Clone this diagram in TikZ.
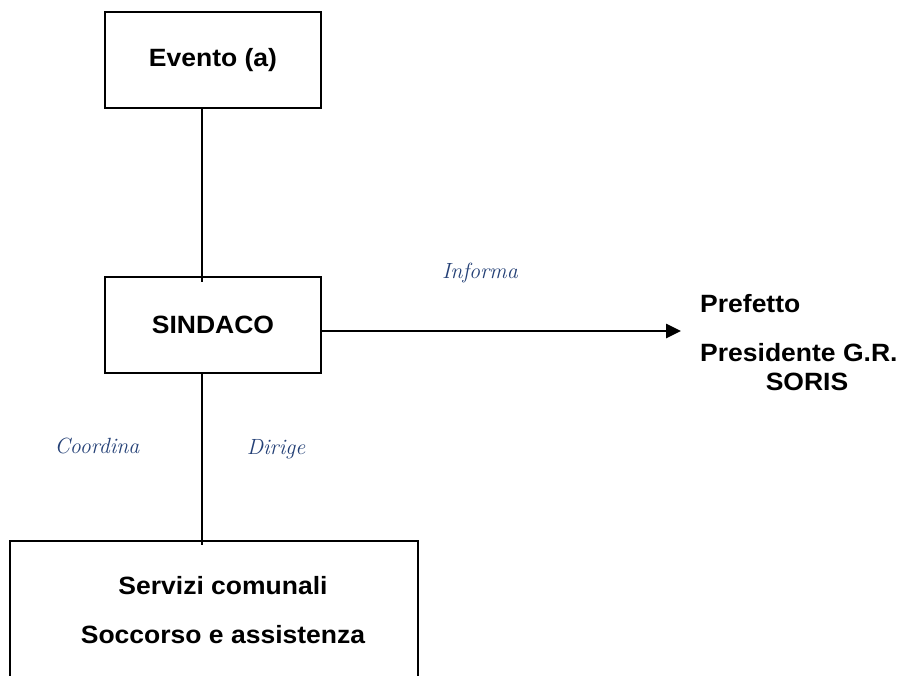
\documentclass[tikz,border=0pt]{standalone}
\usepackage{fontspec}
\usepackage{tikz}
\usetikzlibrary{arrows.meta}
\newfontfamily\arialfont[FakeStretch=1.06]{Liberation Sans}
\definecolor{bluscuro}{RGB}{36,64,118}

\tikzset{
  testo/.style = {font = \arialfont\bfseries\fontsize{25}{30}\selectfont},
  casella/.style = {draw, line width = 1.4pt, inner sep = 0pt},
  azione/.style = {color = bluscuro, font = \itshape\fontsize{22}{26}\selectfont}
}

\begin{document}
\begin{tikzpicture}[x = 1pt, y = -1pt]
\useasboundingbox (0, 0) rectangle (899, 675);
\clip (0, 0) rectangle (899, 675);
% caselle
\node (evento) [casella, testo, minimum width = 216, minimum height = 96] at (213, 60) {Evento (a)};
\node (sindaco) [casella, testo, minimum width = 216, minimum height = 96] at (213, 325) {SINDACO};
\node (servizi) [casella, minimum width = 408, minimum height = 138] at (214, 610) {};
\node (servizitesto) [testo, align = center] at (223, 610) {Servizi comunali\\[19pt]Soccorso e assistenza};
% enti informati
\node (prefetto) [testo, anchor = base west, inner sep = 0pt] at (700, 312) {Prefetto};
\node (presidente) [testo, anchor = base west, inner sep = 0pt] at (700, 361) {Presidente G.R.};
\node (soris) [testo, anchor = base, inner sep = 0pt] at (807, 390) {SORIS};
\coordinate (capo) at (681, 331);
% collegamenti
\draw [line width = 1.4pt] ([xshift = -11pt]evento.south) to ([xshift = -11pt, yshift = -6pt]sindaco.north);
\draw [line width = 1.4pt] ([xshift = -11pt]sindaco.south) to ([xshift = -12pt, yshift = -5pt]servizi.north);
\draw [-{Triangle[length = 15pt, width = 14pt]}, line width = 2.6pt] ([yshift = -6pt]sindaco.east) to (capo);
\node (informa) [azione] at (480, 273) {Informa};
\node (coordina) [azione] at (97, 446) {Coordina};
\node (dirige) [azione] at (276, 449) {Dirige};
\end{tikzpicture}
\end{document}
